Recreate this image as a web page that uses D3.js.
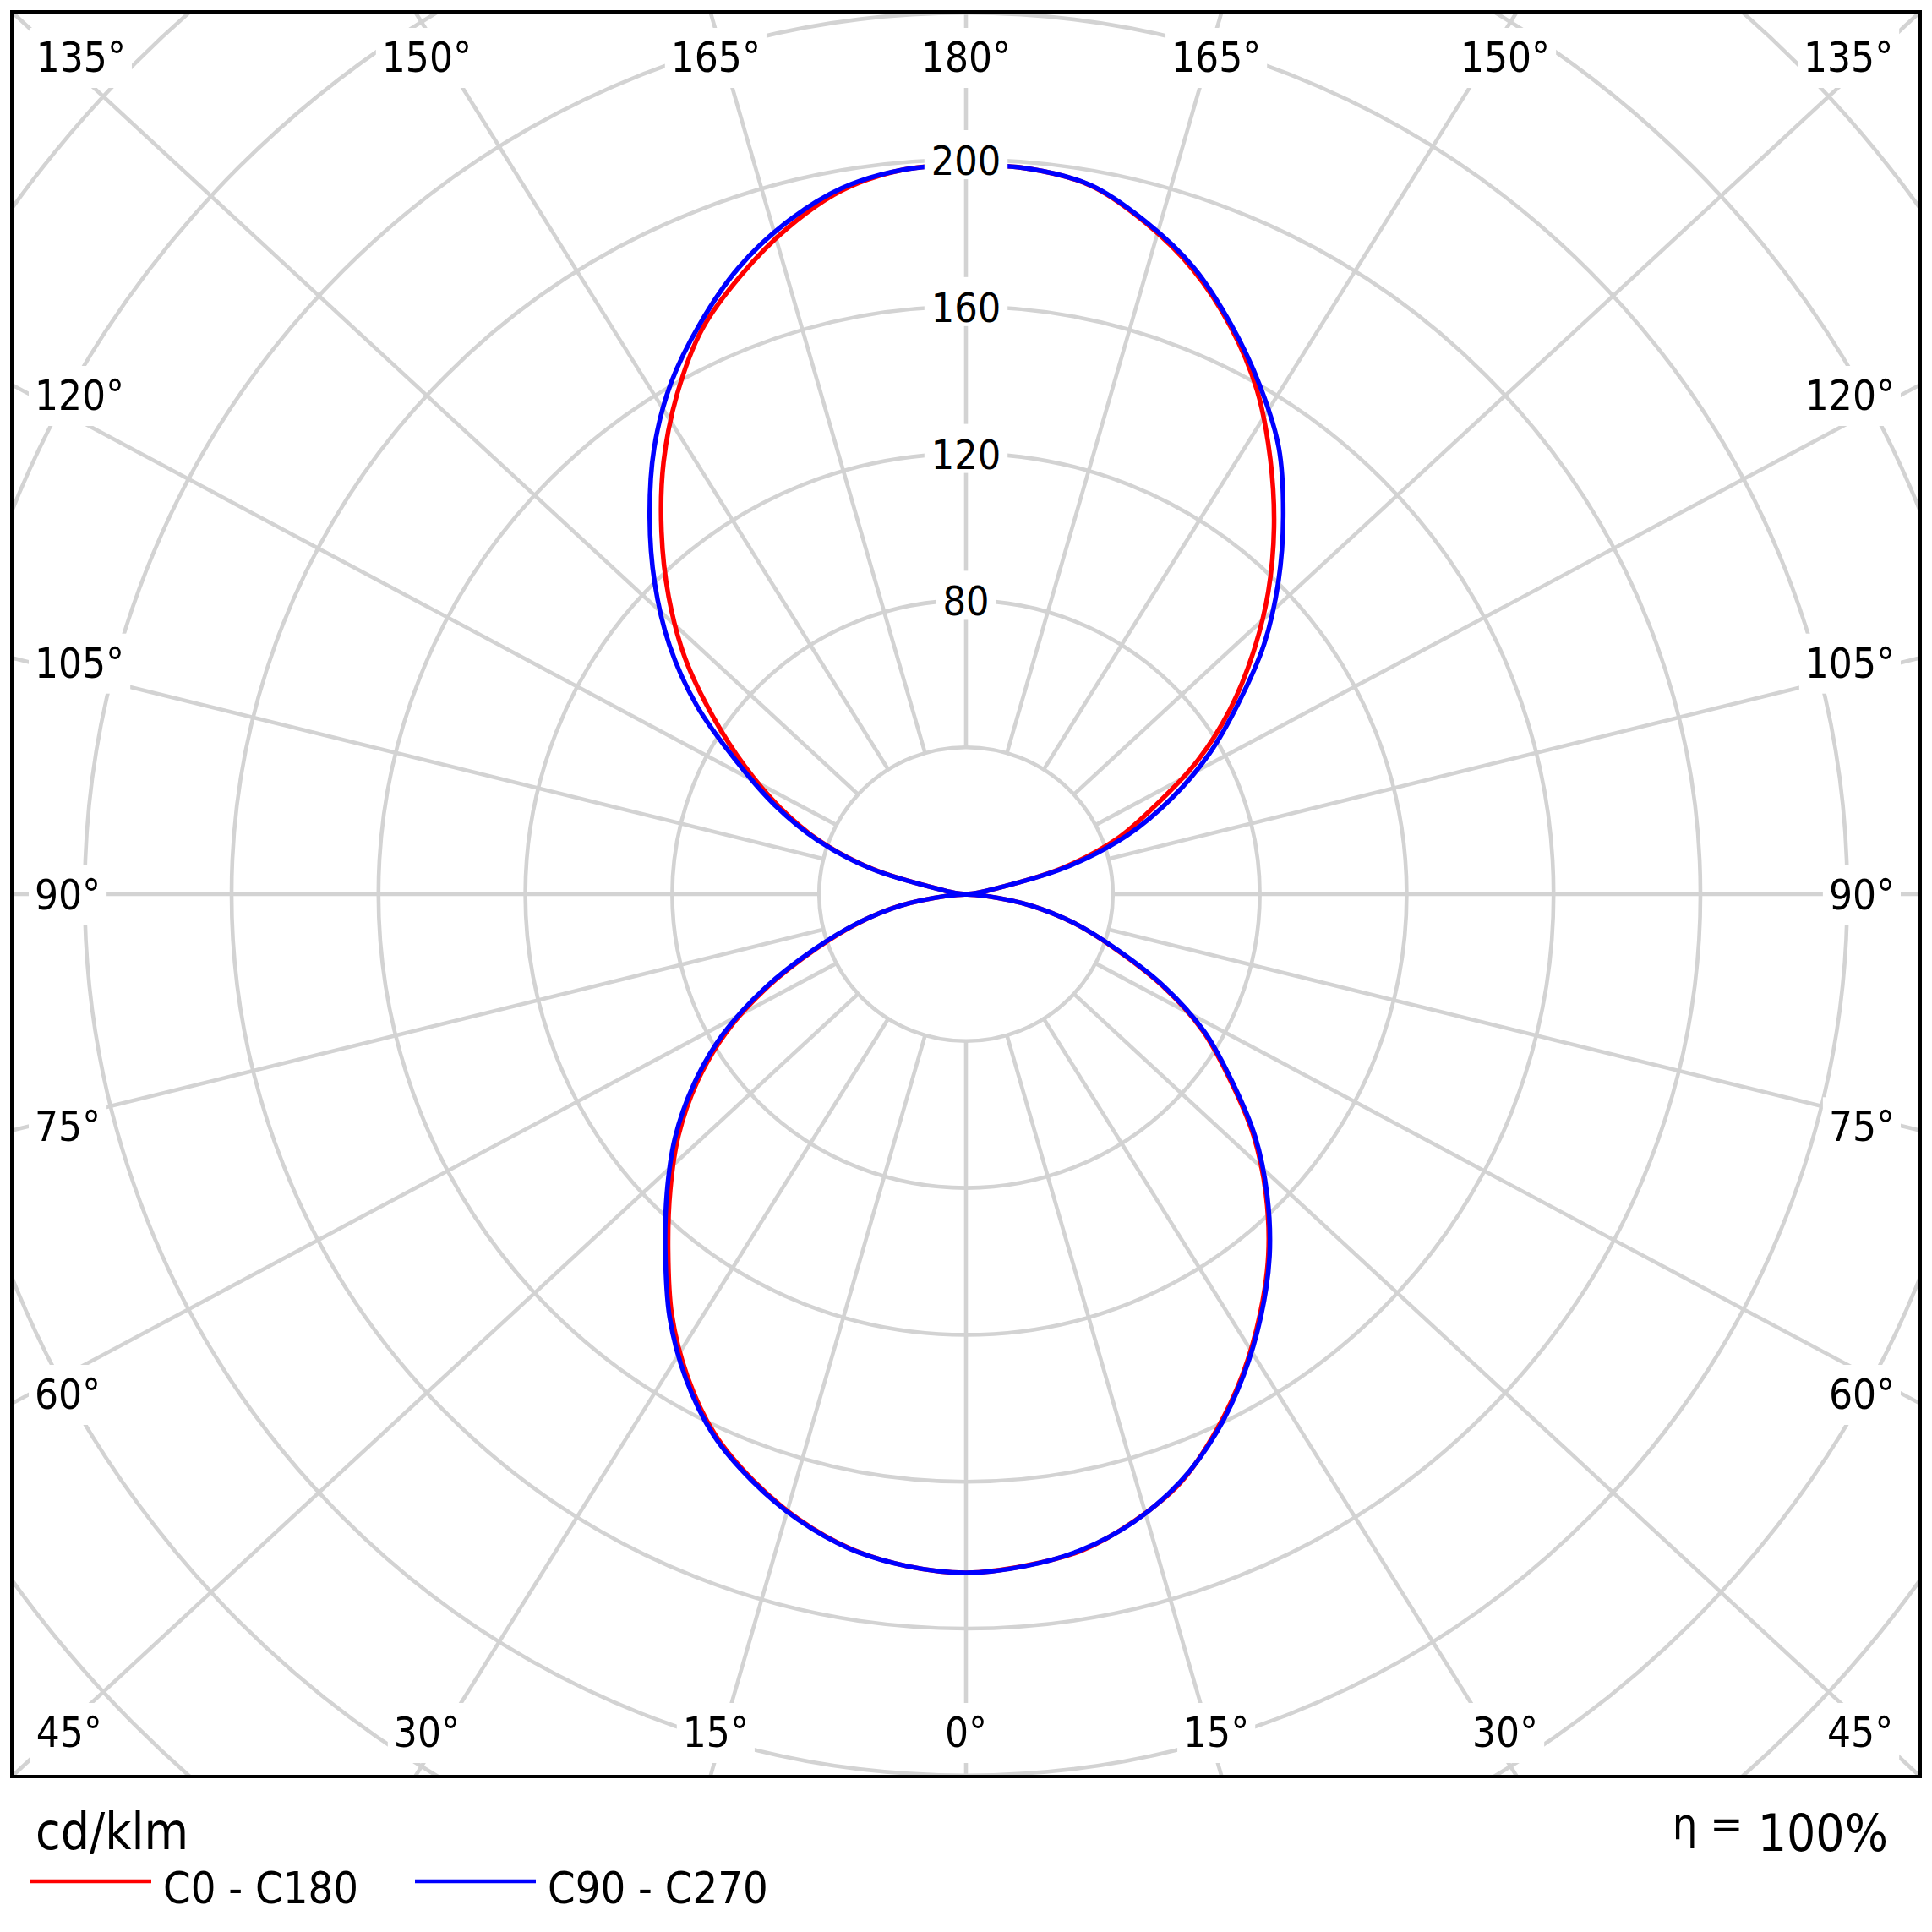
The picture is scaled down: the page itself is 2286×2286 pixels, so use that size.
<!DOCTYPE html>
<html>
<head>
<meta charset="utf-8">
<script src="https://cdn.jsdelivr.net/npm/d3@7"></script>
<style>
  html, body { margin: 0; padding: 0; background: #fff; }
  svg { display: block; }
  text { font-family: "DejaVu Sans Condensed", "DejaVu Sans", sans-serif; fill: #000; }
</style>
</head>
<body>
<div id="chart"></div>
<script>
// gamma angles (0 = down, 180 = up), one value per 5 degrees
const gammaAngles = [0, 5, 10, 15, 20, 25, 30, 35, 40, 45, 50, 55, 60, 65, 70, 75, 80, 85, 90,
  95, 100, 105, 110, 115, 120, 125, 130, 135, 140, 145, 150, 155, 160, 165, 170, 175, 180];

// cd/klm, right half of the diagram
const c0 = [184.8, 183.6, 181.5, 176.8, 170.6, 161.2, 150.8, 139.6, 128.1, 115.5, 102.2, 87.6, 74.5, 59.0, 43.0, 30.5, 18.0, 5.0, 0,
  2.0, 7.0, 26.5, 43.5, 56.7, 72.9, 87.8, 102.0, 116.4, 130.5, 144.5, 158.5, 170.5, 180.9, 189.2, 195.9, 198.3, 198.5];
const c90 = [184.8, 183.7, 181.3, 176.9, 170.4, 161.6, 151.2, 140.1, 128.6, 116.0, 102.8, 88.2, 75.0, 59.5, 43.3, 30.6, 18.0, 5.0, 0,
  2.0, 7.0, 28.0, 46.6, 61.8, 76.5, 90.5, 106.0, 120.3, 134.4, 148.5, 160.0, 171.0, 181.5, 189.5, 196.0, 198.3, 198.5];
// cd/klm, left half of the diagram
const c180 = [184.8, 183.7, 181.0, 176.2, 169.8, 162.1, 151.7, 139.7, 126.2, 113.9, 102.2, 89.5, 75.5, 59.5, 43.5, 30.4, 18.2, 5.0, 0,
  2.0, 6.5, 26.0, 42.5, 56.0, 69.5, 84.0, 99.8, 114.5, 129.0, 143.6, 157.3, 169.9, 179.3, 187.8, 194.6, 198.0, 198.5];
const c270 = [184.8, 183.7, 181.1, 176.4, 170.1, 162.6, 152.5, 140.7, 127.4, 115.2, 103.5, 90.6, 76.5, 60.3, 44.0, 30.6, 18.3, 5.0, 0,
  2.0, 6.5, 26.5, 43.0, 57.5, 72.0, 89.5, 105.4, 119.9, 134.0, 148.1, 160.7, 171.4, 181.4, 189.3, 195.2, 198.0, 198.5];

const seriesNames = ['C0 - C180', 'C90 - C270'];
const ringValues = [40, 80, 120, 160, 200, 240, 280, 320, 360];
const ringLabels = [80, 120, 160, 200];
const spokeAngles = [0, 15, 30, 45, 60, 75, 90, 105, 120, 135, 150, 165, 180];
const unitLabel = 'cd/klm';
const efficiencyLabel = '100%';

const width = 2286, height = 2286;
const frame = { x0: 14, y0: 14, x1: 2272, y1: 2102 };
const cx = (frame.x0 + frame.x1) / 2;
const cy = (frame.y0 + frame.y1) / 2;
const hw = (frame.x1 - frame.x0) / 2;
const hh = (frame.y1 - frame.y0) / 2;
const labelInset = 22;
const gridColor = '#d3d3d3';
const colors = ['#ff0000', '#0000ff'];

const r = d3.scaleLinear().domain([0, 200]).range([0, 869]);
const rad = d => d * Math.PI / 180;

const svg = d3.select('#chart').append('svg')
  .attr('width', width)
  .attr('height', height);

svg.append('defs').append('clipPath').attr('id', 'plotClip')
  .append('rect')
  .attr('x', frame.x0).attr('y', frame.y0)
  .attr('width', frame.x1 - frame.x0).attr('height', frame.y1 - frame.y0);

const plot = svg.append('g').attr('clip-path', 'url(#plotClip)');
const grid = plot.append('g').attr('transform', `translate(${cx},${cy})`);

// rings
grid.selectAll('circle.ring')
  .data(ringValues)
  .join('circle')
  .attr('class', 'ring')
  .attr('r', d => r(d))
  .attr('fill', 'none')
  .attr('stroke', gridColor)
  .attr('stroke-width', 4.6);

// spokes, one per side (the diagram box stretches them to its corners)
const spokes = [];
spokeAngles.forEach(g => {
  spokes.push({ g, side: -1 });
  if (g !== 0 && g !== 180) spokes.push({ g, side: 1 });
});
spokes.forEach(s => {
  s.sx = s.side * Math.sin(rad(s.g));
  s.sy = Math.cos(rad(s.g));
  s.dx = s.sx * hw;
  s.dy = s.sy * hh;
});

grid.selectAll('line.spoke')
  .data(spokes)
  .join('line')
  .attr('class', 'spoke')
  .attr('x1', d => d.dx / Math.hypot(d.dx, d.dy) * r(40))
  .attr('y1', d => d.dy / Math.hypot(d.dx, d.dy) * r(40))
  .attr('x2', d => d.dx * 1.1 / Math.max(Math.abs(d.sx), Math.abs(d.sy)))
  .attr('y2', d => d.dy * 1.1 / Math.max(Math.abs(d.sx), Math.abs(d.sy)))
  .attr('stroke', gridColor)
  .attr('stroke-width', 4.6);

// curves
const halves = [[c0, c180], [c90, c270]];
const curve = d3.lineRadial()
  .angle(d => d.a)
  .radius(d => r(d.v))
  .curve(d3.curveCatmullRomClosed.alpha(0.5));

halves.forEach(([right, left], i) => {
  const pts = [];
  gammaAngles.forEach((g, j) => pts.push({ a: Math.PI + rad(g), v: left[j] }));
  for (let j = gammaAngles.length - 2; j > 0; j--) {
    pts.push({ a: 3 * Math.PI - rad(gammaAngles[j]), v: right[j] });
  }
  grid.append('path')
    .attr('d', curve(pts))
    .attr('fill', 'none')
    .attr('stroke', colors[i])
    .attr('stroke-width', 5.5)
    .attr('stroke-linejoin', 'round');
});

// labels with white boxes
const labels = svg.append('g');

function boxed(g, pad, bottomPad) {
  const t = g.select('text').node().getBBox();
  g.insert('rect', 'text')
    .attr('x', t.x - pad)
    .attr('y', t.y - pad)
    .attr('width', t.width + 2 * pad)
    .attr('height', t.height + pad + (bottomPad === undefined ? pad : bottomPad))
    .attr('fill', '#fff');
}

const degFont = 49;
spokes.forEach(s => {
  const ax = Math.abs(s.sx), ay = Math.abs(s.sy);
  const k = Math.min(ax > 1e-9 ? (hw - labelInset) / (ax * hw) : Infinity,
                     ay > 1e-9 ? (hh - labelInset) / (ay * hh) : Infinity);
  const px = cx + s.dx * k;
  const py = cy + s.dy * k;
  const corner = Math.abs(ax - ay) < 1e-6;
  const vertical = ay > ax || corner;
  const horizontal = ax > ay || corner;
  let x = px, y = py, anchor = 'middle';
  if (horizontal) {
    if (s.side < 0) { x = px + 5; anchor = 'start'; } else { x = px - 8; anchor = 'end'; }
  }
  if (vertical) {
    y = s.sy < 0 ? py + 49 : py - 13;
  } else {
    y = py + 18;
  }
  const g = labels.append('g');
  g.append('text')
    .attr('x', x).attr('y', y)
    .attr('text-anchor', anchor)
    .attr('font-size', degFont)
    .text(s.g + '°');
  boxed(g, 7);
});

ringLabels.forEach(v => {
  const g = labels.append('g');
  g.append('text')
    .attr('x', cx)
    .attr('y', cy - r(v) + 18)
    .attr('text-anchor', 'middle')
    .attr('font-size', 48)
    .text(v);
  boxed(g, 8, -6);
});

// frame
svg.append('rect')
  .attr('x', frame.x0).attr('y', frame.y0)
  .attr('width', frame.x1 - frame.x0).attr('height', frame.y1 - frame.y0)
  .attr('fill', 'none')
  .attr('stroke', '#000')
  .attr('stroke-width', 4);

// footer
svg.append('text')
  .attr('x', 42).attr('y', 2188)
  .attr('font-size', 60)
  .text(unitLabel);

const eta = svg.append('text')
  .attr('x', 2234).attr('y', 2190)
  .attr('text-anchor', 'end');
eta.append('tspan').attr('font-size', 52).attr('dy', -14).text('η =');
eta.append('tspan').attr('font-size', 60).attr('dy', 14).text(' ' + efficiencyLabel);

const legend = svg.append('g');
seriesNames.forEach((name, i) => {
  const x0 = 36 + i * 455;
  legend.append('line')
    .attr('x1', x0).attr('x2', x0 + 143)
    .attr('y1', 2226).attr('y2', 2226)
    .attr('stroke', colors[i])
    .attr('stroke-width', 4.5);
  legend.append('text')
    .attr('x', x0 + 157).attr('y', 2252)
    .attr('font-size', 52)
    .text(name);
});
</script>
</body>
</html>
